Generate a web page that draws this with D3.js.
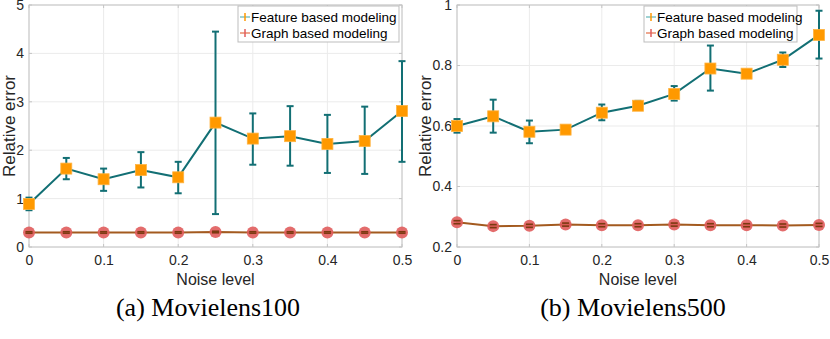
<!DOCTYPE html>
<html>
<head>
<meta charset="utf-8">
<script src="https://cdn.jsdelivr.net/npm/d3@7"></script>
<style>
  body { margin: 0; background: #fff; }
  svg { display: block; font-family: "Liberation Sans", Arial, sans-serif; }
</style>
</head>
<body>
<div id="chart"></div>
<script>
// data
const noiseLevels = [0, 0.05, 0.1, 0.15, 0.2, 0.25, 0.3, 0.35, 0.4, 0.45, 0.5];
const xTicks = [0, 0.1, 0.2, 0.3, 0.4, 0.5];

const ml100Feature      = [0.89, 1.62, 1.40, 1.59, 1.44, 2.57, 2.24, 2.29, 2.13, 2.19, 2.81];
const ml100FeatureLow   = [0.76, 1.40, 1.16, 1.23, 1.11, 0.68, 1.70, 1.68, 1.53, 1.51, 1.76];
const ml100FeatureHigh  = [1.02, 1.84, 1.62, 1.96, 1.76, 4.45, 2.76, 2.91, 2.73, 2.90, 3.84];
const ml100Graph        = [0.30, 0.30, 0.30, 0.30, 0.30, 0.31, 0.30, 0.30, 0.30, 0.30, 0.30];
const ml100GraphLow     = [0.285, 0.285, 0.285, 0.285, 0.285, 0.295, 0.285, 0.285, 0.285, 0.285, 0.285];
const ml100GraphHigh    = [0.315, 0.315, 0.315, 0.315, 0.315, 0.325, 0.315, 0.315, 0.315, 0.315, 0.315];
const ml100YTicks = [0, 1, 2, 3, 4, 5];

const ml500Feature      = [0.600, 0.632, 0.581, 0.588, 0.644, 0.667, 0.706, 0.790, 0.773, 0.819, 0.901];
const ml500FeatureLow   = [0.578, 0.578, 0.543, 0.578, 0.619, 0.653, 0.684, 0.717, 0.763, 0.795, 0.823];
const ml500FeatureHigh  = [0.623, 0.687, 0.618, 0.598, 0.671, 0.683, 0.732, 0.866, 0.784, 0.843, 0.981];
const ml500Graph        = [0.282, 0.269, 0.270, 0.274, 0.272, 0.272, 0.274, 0.272, 0.272, 0.271, 0.273];
const ml500GraphLow     = [0.277, 0.264, 0.265, 0.269, 0.267, 0.267, 0.269, 0.267, 0.267, 0.266, 0.268];
const ml500GraphHigh    = [0.287, 0.274, 0.275, 0.279, 0.277, 0.277, 0.279, 0.277, 0.277, 0.276, 0.278];
const ml500YTicks = [0.2, 0.4, 0.6, 0.8, 1];

const seriesNames = ["Feature based modeling", "Graph based modeling"];

const featureColor = "#126f74";
const featureMarker = "#ff9900";
const graphColor = "#a35a1f";
const graphMarker = "#e05c5c";
const graphCap = "#7a3a10";

const svg = d3.select("#chart")
  .append("svg")
  .attr("width", 830)
  .attr("height", 339);

function drawPanel(opts) {
  const { left, right, top, bottom, yDomain, yTicks, tickFmt, caption, legendX } = opts;

  const x = d3.scaleLinear().domain([0, 0.5]).range([left, right]);
  const y = d3.scaleLinear().domain(yDomain).range([bottom, top]);

  const g = svg.append("g");

  // grid
  g.selectAll(".gx").data(xTicks).enter().append("line")
    .attr("x1", d => x(d)).attr("x2", d => x(d))
    .attr("y1", top).attr("y2", bottom)
    .attr("stroke", "#ebebeb").attr("stroke-width", 1);
  g.selectAll(".gy").data(yTicks).enter().append("line")
    .attr("x1", left).attr("x2", right)
    .attr("y1", d => y(d)).attr("y2", d => y(d))
    .attr("stroke", "#ebebeb").attr("stroke-width", 1);

  // axes
  const xAxis = d3.axisBottom(x).tickValues(xTicks).tickSize(0).tickPadding(8)
    .tickFormat(d => d === 0 ? "0" : d3.format(".1f")(d));
  const yAxis = d3.axisLeft(y).tickValues(yTicks).tickSize(0).tickPadding(5)
    .tickFormat(tickFmt);

  const xg = g.append("g").attr("transform", `translate(0,${bottom})`).call(xAxis);
  const yg = g.append("g").attr("transform", `translate(${left},0)`).call(yAxis);
  [xg, yg].forEach(a => {
    a.select(".domain").remove();
    a.selectAll("text").attr("fill", "#262626").style("font-size", "14px")
      .style("font-family", "Liberation Sans, Arial, sans-serif");
  });

  // box
  g.append("rect")
    .attr("x", left).attr("y", top)
    .attr("width", right - left).attr("height", bottom - top)
    .attr("fill", "none").attr("stroke", "#c4c4c4").attr("stroke-width", 1);

  // small tick marks inside box
  xTicks.forEach(t => {
    g.append("line").attr("x1", x(t)).attr("x2", x(t)).attr("y1", bottom).attr("y2", bottom - 3).attr("stroke", "#c4c4c4");
    g.append("line").attr("x1", x(t)).attr("x2", x(t)).attr("y1", top).attr("y2", top + 3).attr("stroke", "#c4c4c4");
  });
  yTicks.forEach(t => {
    g.append("line").attr("x1", left).attr("x2", left + 3).attr("y1", y(t)).attr("y2", y(t)).attr("stroke", "#c4c4c4");
    g.append("line").attr("x1", right).attr("x2", right - 3).attr("y1", y(t)).attr("y2", y(t)).attr("stroke", "#c4c4c4");
  });

  // axis titles
  g.append("text")
    .attr("x", (left + right) / 2).attr("y", 285)
    .attr("text-anchor", "middle")
    .style("font-size", "16px").attr("fill", "#262626")
    .text("Noise level");
  g.append("text")
    .attr("transform", `translate(${opts.ylabelX},${(top + bottom) / 2}) rotate(-90)`)
    .attr("text-anchor", "middle")
    .style("font-size", "17px").attr("fill", "#262626")
    .text("Relative error");

  const line = d3.line().x((d, i) => x(noiseLevels[i])).y(d => y(d));

  function series(vals, lows, highs, lineColor, capColor, width) {
    g.append("path").datum(vals)
      .attr("d", line)
      .attr("fill", "none").attr("stroke", lineColor).attr("stroke-width", width);
    const eb = g.append("g");
    noiseLevels.forEach((nx, i) => {
      eb.append("line").attr("x1", x(nx)).attr("x2", x(nx))
        .attr("y1", y(lows[i])).attr("y2", y(highs[i]))
        .attr("stroke", lineColor).attr("stroke-width", 2);
      [lows[i], highs[i]].forEach(v => {
        eb.append("line").attr("x1", x(nx) - 3.5).attr("x2", x(nx) + 3.5)
          .attr("y1", y(v)).attr("y2", y(v))
          .attr("stroke", capColor).attr("stroke-width", 2);
      });
    });
  }

  // graph based series
  series(opts.graph, opts.graphLow, opts.graphHigh, graphColor, graphCap, 2);
  g.selectAll(".gm").data(opts.graph).enter().append("circle")
    .attr("cx", (d, i) => x(noiseLevels[i])).attr("cy", d => y(d))
    .attr("r", 6).attr("fill", graphMarker).attr("fill-opacity", 0.9);
  noiseLevels.forEach((nx, i) => {
    [opts.graphLow[i], opts.graphHigh[i]].forEach(v => {
      g.append("line").attr("x1", x(nx) - 3.5).attr("x2", x(nx) + 3.5)
        .attr("y1", y(v)).attr("y2", y(v))
        .attr("stroke", graphCap).attr("stroke-width", 1.5);
    });
  });

  // feature based series
  series(opts.feature, opts.featureLow, opts.featureHigh, featureColor, featureColor, 2);
  g.selectAll(".fm").data(opts.feature).enter().append("rect")
    .attr("x", (d, i) => x(noiseLevels[i]) - 5.5).attr("y", d => y(d) - 5.5)
    .attr("width", 11).attr("height", 11)
    .attr("fill", featureMarker).attr("stroke", "#ffb340").attr("stroke-width", 0.8);

  // legend
  const lg = g.append("g").attr("transform", `translate(${legendX},6)`);
  lg.append("rect").attr("width", opts.legendW).attr("height", 36)
    .attr("fill", "#fff").attr("stroke", "#bdbdbd").attr("stroke-width", 1);
  const icons = [[featureColor, featureMarker, "#7fc3c5"], [graphColor, graphMarker, "#e88a6a"]];
  seriesNames.forEach((name, i) => {
    const cy = 11 + i * 16;
    lg.append("line").attr("x1", 2).attr("x2", 12).attr("y1", cy).attr("y2", cy)
      .attr("stroke", icons[i][2]).attr("stroke-width", 1.5);
    lg.append("line").attr("x1", 7).attr("x2", 7).attr("y1", cy - 4).attr("y2", cy + 4)
      .attr("stroke", icons[i][1]).attr("stroke-width", 1.5);
    lg.append("text").attr("x", 13).attr("y", cy + 5)
      .style("font-size", "13.5px").attr("fill", "#000")
      .text(name);
  });

  // caption
  svg.append("text")
    .attr("x", opts.captionX).attr("y", 316)
    .attr("text-anchor", "middle")
    .style("font-family", "Liberation Serif, Times New Roman, serif")
    .style("font-size", "26px").attr("fill", "#000")
    .text(caption);
}

drawPanel({
  left: 29, right: 402, top: 5, bottom: 247,
  yDomain: [0, 5], yTicks: ml100YTicks, tickFmt: d3.format("d"),
  feature: ml100Feature, featureLow: ml100FeatureLow, featureHigh: ml100FeatureHigh,
  graph: ml100Graph, graphLow: ml100GraphLow, graphHigh: ml100GraphHigh,
  caption: "(a) Movielens100", captionX: 208,
  legendX: 238, legendW: 161, ylabelX: 15
});

drawPanel({
  left: 457, right: 819, top: 5, bottom: 247,
  yDomain: [0.2, 1], yTicks: ml500YTicks, tickFmt: d => d === 1 ? "1" : d3.format(".1f")(d),
  feature: ml500Feature, featureLow: ml500FeatureLow, featureHigh: ml500FeatureHigh,
  graph: ml500Graph, graphLow: ml500GraphLow, graphHigh: ml500GraphHigh,
  caption: "(b) Movielens500", captionX: 633,
  legendX: 644, legendW: 153, ylabelX: 431
});
</script>
</body>
</html>
